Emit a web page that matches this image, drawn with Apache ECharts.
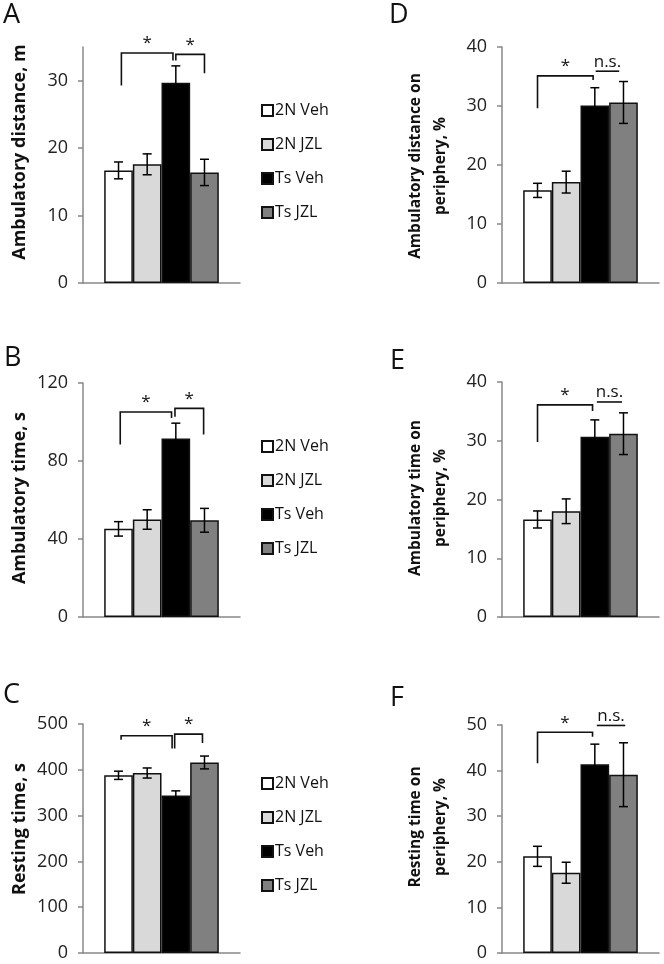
<!DOCTYPE html>
<html>
<head>
<meta charset="utf-8">
<script src="https://cdn.jsdelivr.net/npm/echarts@6/dist/echarts.min.js"></script>
<style>
html, body { margin: 0; padding: 0; background: #fff; }
#app { width: 664px; height: 964px; }
</style>
</head>
<body>
<div id="app"></div>
<script>
// groups and their fills
var groups = ['2N Veh', '2N JZL', 'Ts Veh', 'Ts JZL'];
var groupColors = ['#ffffff', '#d9d9d9', '#000000', '#808080'];

var panelNames = ['A', 'B', 'C', 'D', 'E', 'F'];
var yTitles = [
    'Ambulatory distance, m',
    'Ambulatory time, s',
    'Resting time, s',
    'Ambulatory distance on\nperiphery, %',
    'Ambulatory time on\nperiphery, %',
    'Resting time on\nperiphery, %'
];
var yMaxes = [35, 120, 500, 40, 40, 50];
var yTicks = [
    [0, 10, 20, 30],
    [0, 40, 80, 120],
    [0, 100, 200, 300, 400, 500],
    [0, 10, 20, 30, 40],
    [0, 10, 20, 30, 40],
    [0, 10, 20, 30, 40, 50]
];

// mean and SEM per group
var meanA = [16.7, 17.6, 29.7, 16.4];
var semA = [1.25, 1.55, 2.5, 1.95];
var meanB = [45.2, 50.0, 91.5, 49.6];
var semB = [3.7, 5.0, 7.9, 6.1];
var meanC = [388, 393, 344, 416];
var semC = [9, 11, 10, 14];
var meanD = [15.7, 17.1, 30.1, 30.6];
var semD = [1.2, 1.85, 3.0, 3.55];
var meanE = [16.6, 18.0, 30.7, 31.2];
var semE = [1.45, 2.1, 2.85, 3.55];
var meanF = [21.2, 17.6, 41.4, 39.1];
var semF = [2.2, 2.3, 4.4, 7.0];

// significance marks: [from group, to group, top, left end, right end]
var sigA = [[0.1, 1.9, 34.1, 29.3, 33.0], [2.0, 3.0, 33.9, 33.0, 31.1]];
var sigB = [[0.06, 1.85, 105.1, 88.4, 102.1], [1.97, 2.97, 107.0, 102.7, 93.6]];
var sigC = [[0.09, 1.87, 474.5, 465.7, 446.7], [1.96, 2.93, 478, 446.7, 458.4]];
var sigD = [[0, 1.94, 35.1, 29.6, 34.4], [2.03, 2.85, 35.9, 35.9, 35.9]];
var sigE = [[0, 1.92, 36.1, 29.8, 35.05], [2.07, 2.95, 36.6, 36.6, 36.6]];
var sigF = [[0, 1.92, 48.4, 41.6, 47.4], [2.07, 3.06, 49.9, 49.9, 49.9]];
var sigTextLeft = ['*', '*'];
var sigTextRight = ['*', 'n.s.'];

var means = [meanA, meanB, meanC, meanD, meanE, meanF];
var sems = [semA, semB, semC, semD, semE, semF];
var sigs = [sigA, sigB, sigC, sigD, sigE, sigF];
var sigTexts = [sigTextLeft, sigTextLeft, sigTextLeft, sigTextRight, sigTextRight, sigTextRight];

var FONT = '"Open Sans"';
var GAP = 0.27;

// panel layout
var grids = [
    { left: 83, top: 47, width: 157, height: 236 },
    { left: 83, top: 383, width: 157, height: 234 },
    { left: 83, top: 724, width: 157, height: 229 },
    { left: 502, top: 47, width: 157, height: 236 },
    { left: 502, top: 382, width: 157, height: 235 },
    { left: 502, top: 725, width: 157, height: 228 }
];
var letterPos = [[3, 2], [4, 345], [3, 682], [389, 2], [390, 348], [390, 685]];
// centre of each rotated y title
var titlePos = [[20, 152], [20, 498], [20, 829], [428, 166], [428, 498], [428, 827]];
var titleSize = [18, 18, 18, 15.5, 15.5, 15.5];

function barWidthOf(api) {
    return api.size([1, 0])[0] * (1 - GAP) / 4;
}

function errItem(params, api) {
    var bw = barWidthOf(api);
    var c = api.coord([0, api.value(1)]);
    var x = c[0] + (api.value(3) - 1.5) * bw;
    var hi = api.coord([0, api.value(1) + api.value(2)])[1];
    var lo = api.coord([0, api.value(1) - api.value(2)])[1];
    var st = { stroke: '#000', lineWidth: 1.5 };
    return {
        type: 'group',
        children: [
            { type: 'line', shape: { x1: x, y1: hi, x2: x, y2: lo }, style: st },
            { type: 'line', shape: { x1: x - 4.5, y1: hi, x2: x + 4.5, y2: hi }, style: st },
            { type: 'line', shape: { x1: x - 4.5, y1: lo, x2: x + 4.5, y2: lo }, style: st }
        ]
    };
}

function sigItem(texts) {
    return function (params, api) {
        var bw = barWidthOf(api);
        var base = api.coord([0, api.value(2)]);
        var x1 = base[0] + (api.value(0) - 1.5) * bw;
        var x2 = base[0] + (api.value(1) - 1.5) * bw;
        var yTop = base[1];
        var yl = api.coord([0, api.value(3)])[1];
        var yr = api.coord([0, api.value(4)])[1];
        return {
            type: 'group',
            children: [
                {
                    type: 'polyline',
                    shape: { points: [[x1, yl], [x1, yTop], [x2, yTop], [x2, yr]] },
                    style: { stroke: '#111', lineWidth: 1.6, fill: null }
                },
                {
                    type: 'text',
                    x: (x1 + x2) / 2,
                    y: yTop - 1,
                    style: {
                        text: texts[params.dataIndex],
                        align: 'center',
                        verticalAlign: 'bottom',
                        fontSize: 17,
                        fontFamily: FONT,
                        fill: '#111'
                    }
                }
            ]
        };
    };
}

var option = {
    animation: false,
    backgroundColor: '#fff',
    title: [],
    legend: [],
    grid: [],
    xAxis: [],
    yAxis: [],
    graphic: [],
    series: []
};

for (var p = 0; p < 6; p++) {
    option.grid.push(grids[p]);
    option.title.push({
        text: panelNames[p],
        left: letterPos[p][0],
        top: letterPos[p][1],
        padding: 0,
        textStyle: { fontFamily: FONT, fontSize: 27, fontWeight: 'normal', color: '#111' }
    });
    // y axis title
    option.graphic.push({
        type: 'text',
        x: titlePos[p][0],
        y: titlePos[p][1],
        rotation: Math.PI / 2,
        style: {
            text: yTitles[p],
            align: 'center',
            verticalAlign: 'middle',
            fontFamily: FONT,
            fontSize: titleSize[p],
            fontWeight: 'bold',
            lineHeight: 25,
            fill: '#111'
        }
    });
    option.xAxis.push({
        type: 'category',
        gridIndex: p,
        data: [''],
        axisLine: { lineStyle: { color: '#888', width: 1.5 } },
        axisTick: { show: false },
        axisLabel: { show: false }
    });
    option.yAxis.push({
        type: 'value',
        gridIndex: p,
        min: 0,
        max: yMaxes[p],
        axisLine: { show: true, lineStyle: { color: '#888', width: 1.5 } },
        axisTick: { show: true, length: 5, lineStyle: { color: '#888', width: 1.5 }, customValues: yTicks[p] },
        axisLabel: { fontFamily: FONT, fontSize: 18, color: '#222', margin: 15, customValues: yTicks[p] },
        splitLine: { show: false }
    });
    for (var g = 0; g < 4; g++) {
        option.series.push({
            type: 'bar',
            name: groups[g],
            xAxisIndex: p,
            yAxisIndex: p,
            data: [means[p][g]],
            barGap: '0%',
            barCategoryGap: (GAP * 100) + '%',
            itemStyle: { color: groupColors[g], borderColor: '#111', borderWidth: 1.5 },
            emphasis: { disabled: true }
        });
    }
    option.series.push({
        type: 'custom',
        xAxisIndex: p,
        yAxisIndex: p,
        z: 5,
        renderItem: errItem,
        data: means[p].map(function (m, i) { return [0, m, sems[p][i], i]; })
    });
    option.series.push({
        type: 'custom',
        xAxisIndex: p,
        yAxisIndex: p,
        z: 5,
        clip: false,
        renderItem: sigItem(sigTexts[p]),
        data: sigs[p]
    });
}

// legends beside A, B and C
var legendTops = [96, 432, 769];
legendTops.forEach(function (t) {
    option.legend.push({
        data: groups,
        orient: 'vertical',
        left: 256,
        top: t,
        icon: 'rect',
        itemWidth: 11,
        itemHeight: 11,
        itemGap: 15,
        selectedMode: false,
        textStyle: { fontFamily: FONT, fontSize: 16, color: '#111', lineHeight: 19, padding: [0, 0, 0, -3] }
    });
});

var chart = echarts.init(document.getElementById('app'));
chart.setOption(option);
</script>
</body>
</html>
